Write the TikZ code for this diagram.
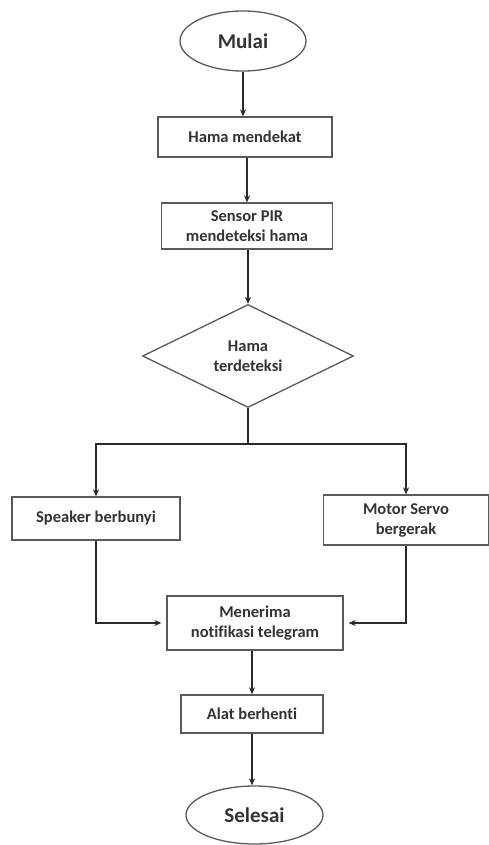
\documentclass[tikz,border=0pt]{standalone}
\usepackage{fontspec}
\setmainfont{Carlito}[Ligatures={NoCommon}]
\usetikzlibrary{shapes.geometric,arrows.meta}
\definecolor{boxline}{HTML}{5A5A5A}
\definecolor{txt}{HTML}{333333}
\definecolor{arrline}{HTML}{2A2A2A}
\tikzset{
  base/.style={draw=boxline, line width=1.3pt, text=txt, font=\bfseries\fontsize{16.5}{20}\selectfont, align=center, inner sep=0pt},
  procbox/.style={base, rectangle},
  termbox/.style={base, ellipse, font=\bfseries\fontsize{21}{24}\selectfont},
  decbox/.style={base, diamond, aspect=2},
  arr/.style={draw=arrline, line width=2.5pt, -{Stealth[length=7pt,width=6pt]}},
  ln/.style={draw=arrline, line width=2.5pt},
}
\begin{document}
\begin{tikzpicture}[x=1pt,y=-1pt]
\useasboundingbox (0,0) rectangle (488,845);
\node[termbox, minimum width=126pt, minimum height=60pt] (mulai) at (243,41) {Mulai};
\node[procbox, minimum width=174pt, minimum height=40pt] (hama) at (245,137) {Hama mendekat};
\node[procbox, minimum width=171pt, minimum height=46pt] (sensor) at (247,226) {Sensor PIR\\mendeteksi hama};
\node[decbox, minimum width=211pt, minimum height=103pt] (dia) at (248,356) {Hama\\terdeteksi};
\node[procbox, minimum width=168pt, minimum height=43pt] (speaker) at (96,518.5) {Speaker berbunyi};
\node[procbox, minimum width=165pt, minimum height=50pt] (motor) at (406,520) {Motor Servo\\bergerak};
\node[procbox, minimum width=176pt, minimum height=54pt] (menerima) at (255,623) {Menerima\\notifikasi telegram};
\node[procbox, minimum width=142pt, minimum height=38pt] (alat) at (252,714) {Alat berhenti};
\node[termbox, minimum width=137pt, minimum height=58pt] (selesai) at (254.5,815) {Selesai};
\coordinate (j) at (248,444);
\draw[arr] (mulai.south) -- (mulai.south |- hama.north);
\draw[arr] (hama.south -| sensor.north) -- (sensor.north);
\draw[arr] (sensor.south -| dia.north) -- (dia.north);
\draw[ln] (dia.south) -- (j);
\draw[arr] (j) -| (speaker.north);
\draw[arr] (j) -| (motor.north);
\draw[arr, shorten >=5pt] (speaker.south) |- (menerima.west);
\draw[arr, shorten >=5pt] (motor.south) |- (menerima.east);
\draw[arr] (menerima.south -| alat.north) -- (alat.north);
\draw[arr] (alat.south) -- (alat.south |- selesai.north);
\end{tikzpicture}
\end{document}
